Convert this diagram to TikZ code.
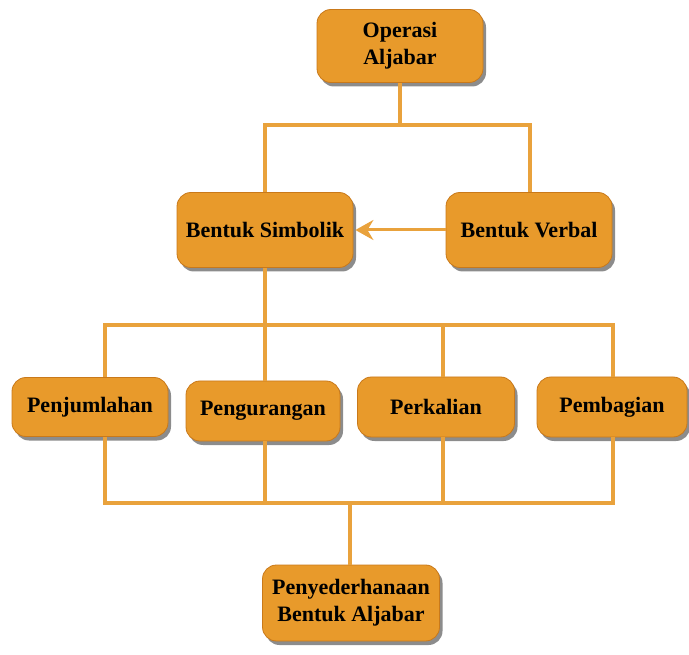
\documentclass[tikz,border=0pt]{standalone}
\usepackage{fontspec}
\setmainfont{Liberation Serif}
\usetikzlibrary{shadows,arrows.meta}
\definecolor{boxfill}{HTML}{E89A2B}
\definecolor{boxedge}{HTML}{C9791A}
\definecolor{linecol}{HTML}{E9A23C}
\tikzset{
  box/.style={draw=boxedge, line width=0.8pt, fill=boxfill, rounded corners=14pt,
    align=center, font=\bfseries\fontsize{22}{27}\selectfont, inner sep=2pt,
    drop shadow={shadow xshift=3pt, shadow yshift=-4pt, opacity=0.6, fill=black!75}},
  conn/.style={draw=linecol, line width=3.2pt},
}
\begin{document}
\begin{tikzpicture}[x=1pt,y=-1pt]
\useasboundingbox (0,0) rectangle (689,655);
% nodes
\node[box, minimum width=166pt, minimum height=73pt] (op) at (400,46) {Operasi\\Aljabar};
\node[box, minimum width=176pt, minimum height=75pt] (sim) at (265,230) {Bentuk Simbolik};
\node[box, minimum width=166pt, minimum height=75pt] (verb) at (529,230) {Bentuk Verbal};
\node[box, minimum width=156pt, minimum height=59pt] (pj) at (90,407) {Penjumlahan};
\node[box, minimum width=154pt, minimum height=60pt] (pg) at (263,411) {Pengurangan};
\node[box, minimum width=157pt, minimum height=60pt] (pk) at (436,407) {Perkalian};
\node[box, minimum width=150pt, minimum height=60pt] (pb) at (612,407) {Pembagian};
\node[box, minimum width=177pt, minimum height=76pt] (ps) at (351,603) {Penyederhanaan\\Bentuk Aljabar};
% junction coordinates
\coordinate (t1) at (400,125);
\coordinate (tl) at (265,125);
\coordinate (tr) at (530,125);
\coordinate (m0) at (265,325);
\coordinate (m1) at (105,325);
\coordinate (m3) at (443,325);
\coordinate (m4) at (613,325);
\coordinate (b1) at (105,503);
\coordinate (b2) at (265,503);
\coordinate (b3) at (443,503);
\coordinate (b4) at (613,503);
\coordinate (bc) at (350,503);
% connectors
\draw[conn] (op.south -| t1) -- (t1);
\draw[conn] (tl |- sim.north) -- (tl) -- (tr) -- (tr |- verb.north);
\draw[conn] (sim.south) -- (m0);
\draw[conn] (m1 |- pj.north) -- (m1) -- (m4) -- (m4 |- pb.north);
\draw[conn] (m0) -- (m0 |- pg.north);
\draw[conn] (m3) -- (m3 |- pk.north);
\draw[conn] (b1 |- pj.south) -- (b1) -- (b4) -- (b4 |- pb.south);
\draw[conn] (b2 |- pg.south) -- (b2);
\draw[conn] (b3 |- pk.south) -- (b3);
\draw[conn] (bc) -- (bc |- ps.north);
\draw[conn, line width=3pt, -{Stealth[length=18pt,width=20pt,inset=6pt]}] (verb.west) -- ([xshift=2pt]sim.east);
\end{tikzpicture}
\end{document}
